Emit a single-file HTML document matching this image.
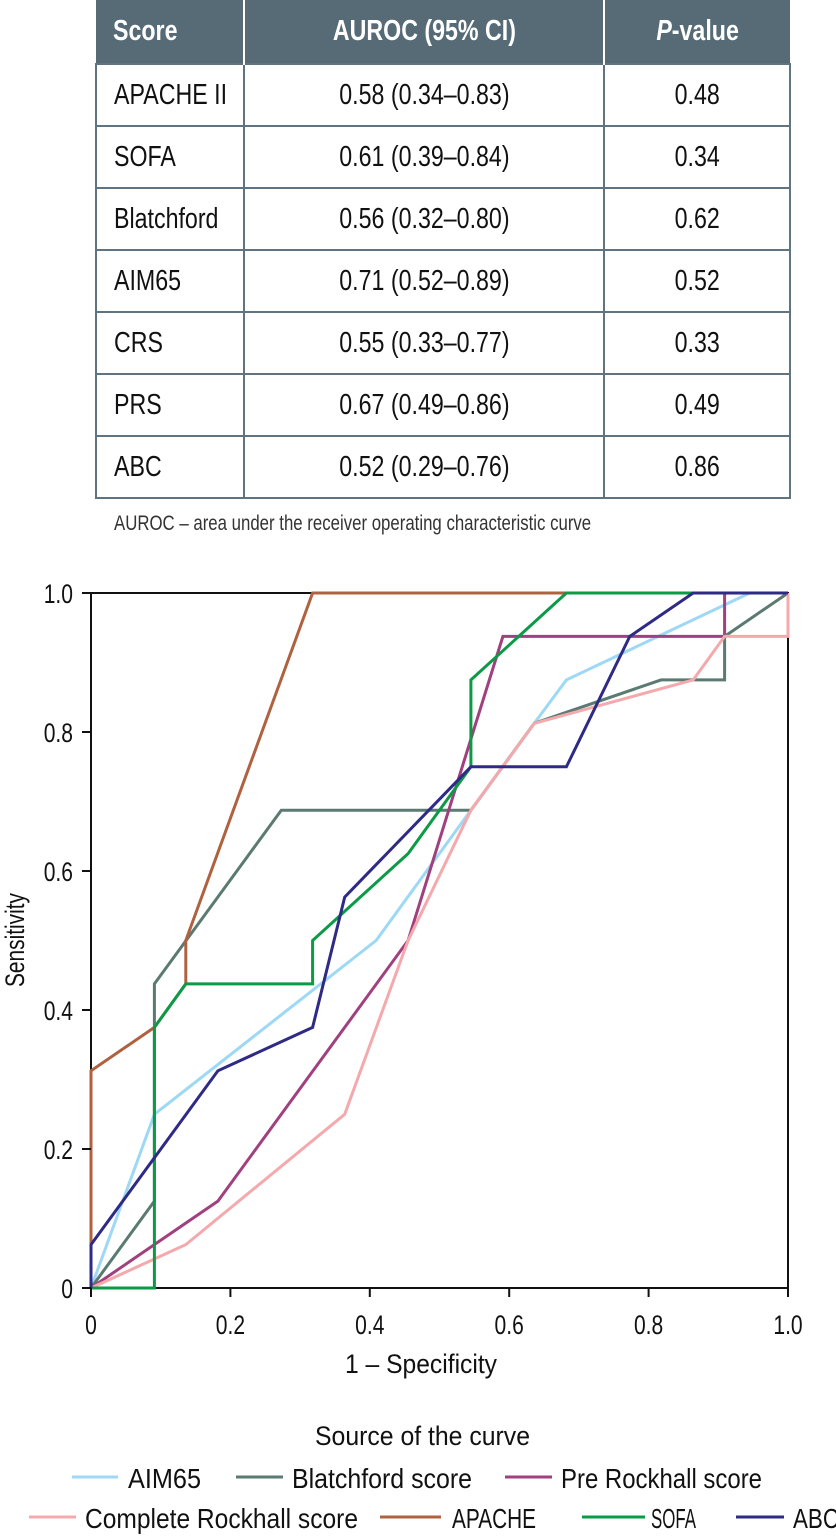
<!DOCTYPE html>
<html><head><meta charset="utf-8"><style>
body{margin:0;width:836px;height:1538px;background:#fff;font-family:"Liberation Sans",sans-serif;overflow:hidden;position:relative}
table{position:absolute;left:95px;top:0;width:696px;border-collapse:collapse;font-size:29px;table-layout:fixed}
th{background:#566b75;color:#fff;font-weight:bold;height:63px;padding:0;border-right:2px solid #fff;white-space:nowrap}
th:last-child{border-right:none}
td{height:60px;border:2px solid #5f7480;padding:0;text-align:center;color:#111;white-space:nowrap}
td:first-child,th:first-child{text-align:left;padding-left:17px}
.c{display:inline-block;transform:scaleX(0.8);transform-origin:center}
td:first-child .c,th:first-child .c{transform-origin:left}
.note{position:absolute;left:114px;top:512px;font-size:21px;color:#333;transform:scaleX(0.8);transform-origin:left;white-space:nowrap}
svg{position:absolute;left:0;top:0}
svg text{font-family:"Liberation Sans",sans-serif;fill:#111}
</style></head><body>
<table>
<colgroup><col style="width:148px"><col style="width:360px"><col></colgroup>
<tr><th><span class="c">Score</span></th><th><span class="c">AUROC (95% CI)</span></th><th><span class="c"><i>P</i>-value</span></th></tr>
<tr><td><span class="c">APACHE II</span></td><td><span class="c">0.58 (0.34–0.83)</span></td><td><span class="c">0.48</span></td></tr>
<tr><td><span class="c">SOFA</span></td><td><span class="c">0.61 (0.39–0.84)</span></td><td><span class="c">0.34</span></td></tr>
<tr><td><span class="c">Blatchford</span></td><td><span class="c">0.56 (0.32–0.80)</span></td><td><span class="c">0.62</span></td></tr>
<tr><td><span class="c">AIM65</span></td><td><span class="c">0.71 (0.52–0.89)</span></td><td><span class="c">0.52</span></td></tr>
<tr><td><span class="c">CRS</span></td><td><span class="c">0.55 (0.33–0.77)</span></td><td><span class="c">0.33</span></td></tr>
<tr><td><span class="c">PRS</span></td><td><span class="c">0.67 (0.49–0.86)</span></td><td><span class="c">0.49</span></td></tr>
<tr><td><span class="c">ABC</span></td><td><span class="c">0.52 (0.29–0.76)</span></td><td><span class="c">0.86</span></td></tr>
</table>
<div class="note">AUROC – area under the receiver operating characteristic curve</div>
<svg id="chart" width="836" height="1538"></svg>
<script>
const xTicks=[0,0.2,0.4,0.6,0.8,1.0];
const xTickLabels=["0","0.2","0.4","0.6","0.8","1.0"];
const yTicks=[0,0.2,0.4,0.6,0.8,1.0];
const yTickLabels=["0","0.2","0.4","0.6","0.8","1.0"];
const seriesNames=["AIM65","Blatchford score","Pre Rockhall score","Complete Rockhall score","APACHE","SOFA","ABC"];
const seriesColors=["#9dd8f5","#5a7a72","#a0407e","#f4a9ad","#b0613f","#0b9a45","#2e2a86"];
const aim65X=[0,0.091,0.409,0.545,0.636,0.682,0.945,1];
const aim65Y=[0,0.25,0.5,0.6875,0.8125,0.875,1,1];
const blatX=[0,0.091,0.091,0.273,0.545,0.636,0.818,0.909,0.909,1];
const blatY=[0,0.125,0.4375,0.6875,0.6875,0.8125,0.875,0.875,0.9375,1];
const preX=[0,0.182,0.455,0.591,0.909,0.909,1];
const preY=[0,0.125,0.5,0.9375,0.9375,1,1];
const compX=[0,0.136,0.364,0.455,0.545,0.636,0.864,0.909,1,1];
const compY=[0,0.0625,0.25,0.5,0.6875,0.8125,0.875,0.9375,0.9375,1];
const apacheX=[0,0,0.091,0.136,0.136,0.318,1];
const apacheY=[0,0.3125,0.375,0.4375,0.5,1,1];
const sofaX=[0,0.091,0.091,0.136,0.318,0.318,0.455,0.545,0.545,0.682,1];
const sofaY=[0,0,0.375,0.4375,0.4375,0.5,0.625,0.75,0.875,1,1];
const abcX=[0,0,0.182,0.318,0.364,0.545,0.682,0.773,0.864,1];
const abcY=[0,0.0625,0.3125,0.375,0.5625,0.75,0.75,0.9375,1,1];
const seriesX=[aim65X,blatX,preX,compX,apacheX,sofaX,abcX];
const seriesY=[aim65Y,blatY,preY,compY,apacheY,sofaY,abcY];

const NS="http://www.w3.org/2000/svg";
const svg=document.getElementById('chart');
const X0=91,X1=788,Y0=1288,Y1=593;
function sx(v){return X0+v*(X1-X0);}
function sy(v){return Y0-v*(Y0-Y1);}
function mk(t,a){const e=document.createElementNS(NS,t);for(const k in a)e.setAttribute(k,a[k]);svg.appendChild(e);return e;}
function fit(t,w){t.setAttribute('textLength',w);t.setAttribute('lengthAdjust','spacingAndGlyphs');}

const fr=mk('rect',{x:X0,y:Y1,width:X1-X0,height:Y0-Y1,fill:"none",stroke:"#111","stroke-width":"2"});


for(let i=0;i<seriesNames.length;i++){
  const pts=seriesX[i].map((x,j)=>sx(x).toFixed(1)+","+sy(seriesY[i][j]).toFixed(1)).join(" ");
  const p=mk('polyline',{points:pts,fill:"none",stroke:seriesColors[i],"stroke-width":"3"});
  
  
}
xTicks.forEach((v,i)=>{
  const l=mk('line',{x1:sx(v),x2:sx(v),y1:Y0,y2:Y0+9,stroke:"#111","stroke-width":"2"});
  
  
  const t=mk('text',{x:sx(v),y:Y0+46,"text-anchor":"middle","font-size":"27",transform:`translate(${sx(v)},0) scale(0.78,1) translate(${-sx(v)},0)`});
  t.textContent=xTickLabels[i];
  
  
});
yTicks.forEach((v,i)=>{
  const l=mk('line',{x1:X0-9,x2:X0,y1:sy(v),y2:sy(v),stroke:"#111","stroke-width":"2"});
  
  
  const t=mk('text',{x:X0-18,y:sy(v)+10,"text-anchor":"end","font-size":"27",transform:`translate(${X0-18},0) scale(0.78,1) translate(${-(X0-18)},0)`});
  t.textContent=yTickLabels[i];
  
  
});
const xt=mk('text',{x:345,y:1373,"font-size":"27"});
xt.textContent="1 – Specificity";
fit(xt,152);


const yt=mk('text',{x:0,y:0,"text-anchor":"middle","font-size":"27",transform:"translate(24,940) rotate(-90)"});
yt.textContent="Sensitivity";
fit(yt,94);


const lt=mk('text',{x:315,y:1445,"font-size":"27"});
lt.textContent="Source of the curve";
fit(lt,215);


// [lineX1, lineX2, lineY, textX, textWidth]
const legPos=[[72,118,1477,128,73],[236,283,1477,292,180],[505,552,1477,561,201],[29,76,1517,85,273],[380,441,1517,452,84],[582,645,1517,651,45],[736,784,1517,793,46]];
seriesNames.forEach((n,i)=>{
  const [a,b,ly,tx,tw]=legPos[i];
  const l=mk('line',{x1:a,x2:b,y1:ly,y2:ly,stroke:seriesColors[i],"stroke-width":"3"});
  
  
  const t=mk('text',{x:tx,y:ly+11,"font-size":"28"});
  t.textContent=n;
  fit(t,tw);
  
  
});
</script>
</body></html>
